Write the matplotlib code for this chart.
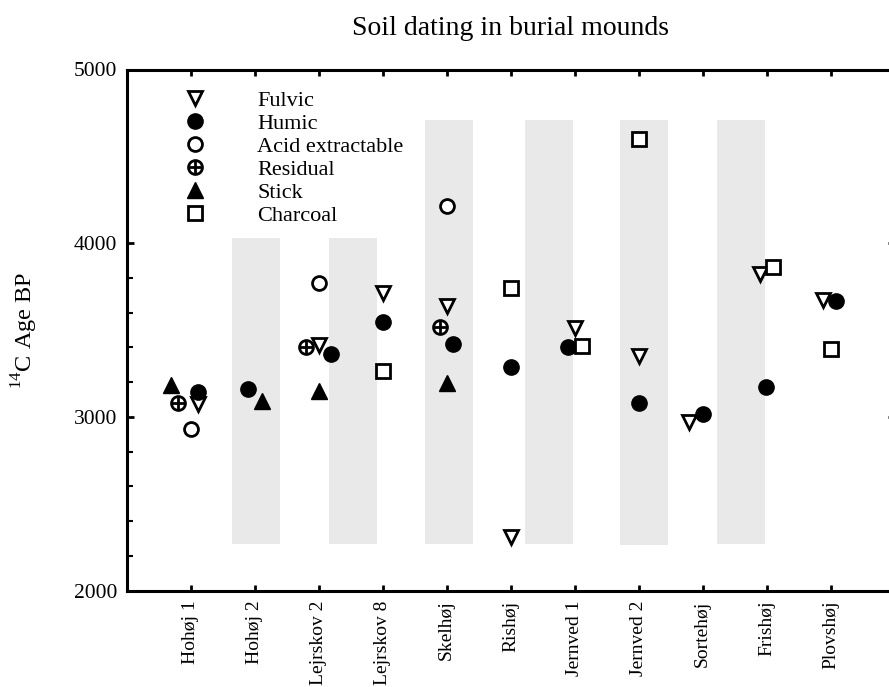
import matplotlib
matplotlib.use("Agg")
import matplotlib.pyplot as plt
from matplotlib.lines import Line2D
from matplotlib.legend_handler import HandlerTuple

plt.rcParams['font.family'] = ['Liberation Serif', 'DejaVu Serif']
plt.rcParams['mathtext.fontset'] = 'custom'
plt.rcParams['mathtext.rm'] = 'Liberation Serif'

# ---------------- data ----------------
sites = ["Hohøj 1", "Hohøj 2", "Lejrskov 2", "Lejrskov 8", "Skelhøj", "Rishøj",
         "Jernved 1", "Jernved 2", "Sortehøj", "Frishøj", "Plovshøj"]

fulvic_sites = ["Hohøj 1", "Lejrskov 2", "Lejrskov 8", "Skelhøj", "Rishøj",
                "Jernved 1", "Jernved 2", "Sortehøj", "Frishøj", "Plovshøj"]
fulvic_age = [3075, 3413, 3711, 3640, 2310, 3513, 3350, 2973, 3823, 3673]
fulvic_shift = [0.12, 0.0, 0.0, 0.0, 0.0, 0.0, 0.0, -0.21, -0.11, -0.12]

humic_sites = ["Hohøj 1", "Hohøj 2", "Lejrskov 2", "Lejrskov 8", "Skelhøj", "Rishøj",
               "Jernved 1", "Jernved 2", "Sortehøj", "Frishøj", "Plovshøj"]
humic_age = [3142, 3162, 3361, 3544, 3418, 3290, 3400, 3081, 3016, 3172, 3667]
humic_shift = [0.11, -0.10, 0.20, 0.0, 0.10, 0.0, -0.11, 0.0, 0.0, -0.01, 0.08]

acid_sites = ["Hohøj 1", "Lejrskov 2", "Skelhøj"]
acid_age = [2929, 3773, 4215]
acid_shift = [0.0, 0.0, 0.0]

resid_sites = ["Hohøj 1", "Lejrskov 2", "Skelhøj"]
resid_age = [3079, 3403, 3519]
resid_shift = [-0.19, -0.20, -0.10]

stick_sites = ["Hohøj 1", "Hohøj 2", "Lejrskov 2", "Skelhøj"]
stick_age = [3185, 3092, 3148, 3193]
stick_shift = [-0.30, 0.12, 0.0, 0.0]

charcoal_sites = ["Lejrskov 8", "Rishøj", "Jernved 1", "Jernved 2", "Frishøj", "Plovshøj"]
charcoal_age = [3263, 3744, 3409, 4600, 3862, 3394]
charcoal_shift = [0.0, 0.0, 0.11, 0.0, 0.10, 0.0]

# background shading bands (x centre on site axis, bottom and top age)
band_x = [2.02, 3.53, 5.04, 6.60, 8.08, 9.60]
band_bottom = [2270, 2270, 2270, 2270, 2265, 2270]
band_top = [4030, 4030, 4710, 4710, 4710, 4710]

legend_labels = ["Fulvic", "Humic", "Acid extractable", "Residual", "Stick", "Charcoal"]

# ---------------- figure ----------------
W, H = 889, 687
fig = plt.figure(figsize=(W / 100, H / 100), dpi=100)
ax = fig.add_axes([126.6 / W, (H - 590.7) / H, 768 / W, (590.7 - 69.5) / H])

pos = {s: i + 1 for i, s in enumerate(sites)}

def xs(names, shifts):
    return [pos[n] + d for n, d in zip(names, shifts)]

heights = [t - b for t, b in zip(band_top, band_bottom)]
ax.bar(band_x, heights, bottom=band_bottom, width=0.75, color='#e9e9e9',
       edgecolor='none', zorder=0)

mew = 2.0
ax.plot(xs(fulvic_sites, fulvic_shift), fulvic_age, ls='none', marker='v', ms=10,
        mfc='white', mec='black', mew=mew, zorder=3)
ax.plot(xs(humic_sites, humic_shift), humic_age, ls='none', marker='o', ms=11,
        mfc='black', mec='black', mew=1, zorder=3)
ax.plot(xs(acid_sites, acid_shift), acid_age, ls='none', marker='o', ms=10,
        mfc='white', mec='black', mew=mew, zorder=3)
ax.plot(xs(resid_sites, resid_shift), resid_age, ls='none', marker='o', ms=10,
        mfc='white', mec='black', mew=mew, zorder=3)
ax.plot(xs(resid_sites, resid_shift), resid_age, ls='none', marker='+', ms=10,
        mec='black', mew=mew, zorder=3)
ax.plot(xs(stick_sites, stick_shift), stick_age, ls='none', marker='^', ms=11,
        mfc='black', mec='black', mew=1, zorder=3)
ax.plot(xs(charcoal_sites, charcoal_shift), charcoal_age, ls='none', marker='s', ms=9.5,
        mfc='white', mec='black', mew=mew, zorder=3)

ax.set_xlim(0, 12)
ax.set_ylim(2000, 5000)
ax.set_xticks(range(1, len(sites) + 1))
ax.set_xticklabels(sites, rotation=90, fontsize=14)
ax.set_yticks([2000, 3000, 4000, 5000])
ax.set_yticks([2200, 2400, 2600, 2800, 3200, 3400, 3600, 3800], minor=True)
ax.tick_params(axis='y', labelsize=15.5)
ax.tick_params(axis='x', which='major', direction='in', top=True, bottom=True,
               length=4, width=2, pad=7)
ax.tick_params(axis='y', which='major', direction='in', left=True, right=True,
               length=5, width=2, pad=7)
ax.tick_params(axis='y', which='minor', direction='in', left=True, right=False,
               length=4, width=1.5)
for sp in ax.spines.values():
    sp.set_linewidth(2.2)

ax.set_ylabel(r"$^{14}$C Age BP", fontsize=17.5)
ax.yaxis.set_label_coords(-0.113, 0.5)
ax.set_title("Soil dating in burial mounds", fontsize=20, pad=25)

# legend
h_fulvic = Line2D([], [], ls='none', marker='v', ms=10, mfc='white', mec='black', mew=mew)
h_humic = Line2D([], [], ls='none', marker='o', ms=11, mfc='black', mec='black', mew=1)
h_acid = Line2D([], [], ls='none', marker='o', ms=10, mfc='white', mec='black', mew=mew)
h_res_c = Line2D([], [], ls='none', marker='o', ms=10, mfc='white', mec='black', mew=mew)
h_res_p = Line2D([], [], ls='none', marker='+', ms=10, mec='black', mew=mew)
h_stick = Line2D([], [], ls='none', marker='^', ms=11, mfc='black', mec='black', mew=1)
h_char = Line2D([], [], ls='none', marker='s', ms=9.5, mfc='white', mec='black', mew=mew)
handles = [h_fulvic, h_humic, h_acid, (h_res_c, h_res_p), h_stick, h_char]
ax.legend(handles, legend_labels, loc='upper left', bbox_to_anchor=(0.0746, 0.9593),
          frameon=False, fontsize=16, handlelength=1.0, handletextpad=2.29,
          labelspacing=0.11, borderpad=0, borderaxespad=0,
          handler_map={tuple: HandlerTuple(ndivide=1)})

fig.savefig("out.png", dpi=100)
